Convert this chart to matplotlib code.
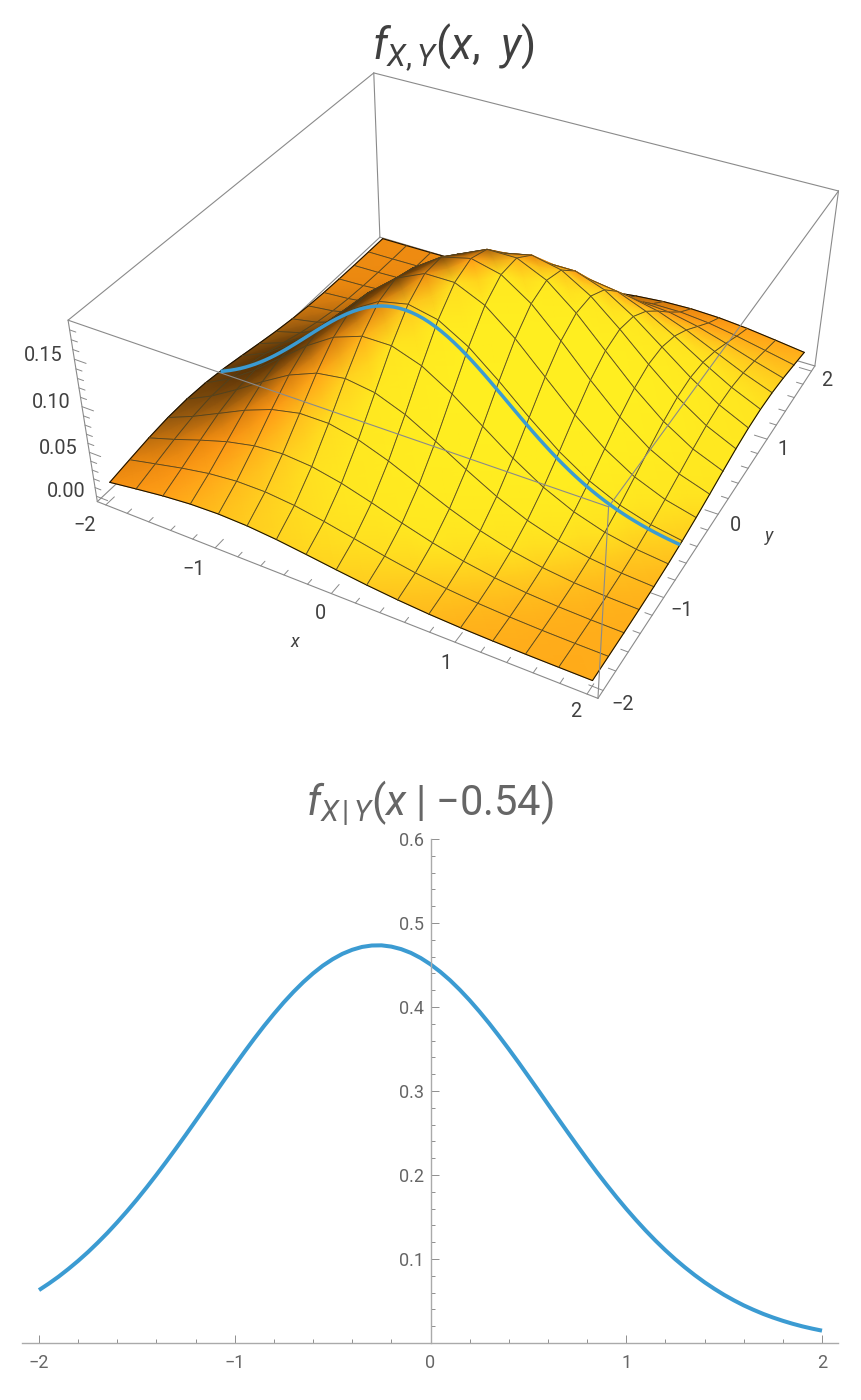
"""
Joint density surface with a conditional slice, and the slice on its own.
"""

import matplotlib
matplotlib.use("Agg")
import matplotlib.pyplot as plt
from matplotlib.colors import LinearSegmentedColormap
from matplotlib.ticker import MultipleLocator
import numpy as np

plt.rcParams["font.family"] = ["Roboto", "DejaVu Sans"]
plt.rcParams["mathtext.fontset"] = "custom"
plt.rcParams["mathtext.rm"] = "Roboto"
plt.rcParams["mathtext.it"] = "Roboto:italic"
plt.rcParams["mathtext.bf"] = "Roboto:bold"
plt.rcParams["axes.unicode_minus"] = True

# -------------------------------------------------------------------------
# Data
# -------------------------------------------------------------------------

grid_x = [-2.0, -1.75, -1.5, -1.25, -1.0, -0.75, -0.5, -0.25, 0.0,
          0.25, 0.5, 0.75, 1.0, 1.25, 1.5, 1.75, 2.0]
grid_y = list(grid_x)

# one row per y value, from y = -2 to y = 2
z_ym200 = [.0128, .0171, .0211, .0239, .0249, .0239, .0211, .0171, .0128, .0088, .0056, .0032, .0017, .0009, .0004, .0002, .0001]
z_ym175 = [.0171, .0239, .0306, .0362, .0393, .0393, .0362, .0306, .0239, .0171, .0113, .0068, .0038, .0020, .0009, .0004, .0002]
z_ym150 = [.0211, .0306, .0410, .0505, .0572, .0597, .0572, .0505, .0410, .0306, .0211, .0133, .0077, .0041, .0020, .0009, .0004]
z_ym125 = [.0239, .0362, .0505, .0649, .0766, .0833, .0833, .0766, .0649, .0505, .0362, .0239, .0145, .0081, .0041, .0020, .0009]
z_ym100 = [.0249, .0393, .0572, .0766, .0944, .1069, .1115, .1069, .0944, .0766, .0572, .0393, .0249, .0145, .0077, .0038, .0017]
z_ym075 = [.0239, .0393, .0597, .0833, .1069, .1263, .1373, .1373, .1263, .1069, .0833, .0597, .0393, .0239, .0133, .0068, .0032]
z_ym050 = [.0211, .0362, .0572, .0833, .1115, .1373, .1556, .1622, .1556, .1373, .1115, .0833, .0572, .0362, .0211, .0113, .0056]
z_ym025 = [.0171, .0306, .0505, .0766, .1069, .1373, .1622, .1763, .1763, .1622, .1373, .1069, .0766, .0505, .0306, .0171, .0088]
z_y000 = [.0128, .0239, .0410, .0649, .0944, .1263, .1556, .1763, .1838, .1763, .1556, .1263, .0944, .0649, .0410, .0239, .0128]
z_y025 = [.0088, .0171, .0306, .0505, .0766, .1069, .1373, .1622, .1763, .1763, .1622, .1373, .1069, .0766, .0505, .0306, .0171]
z_y050 = [.0056, .0113, .0211, .0362, .0572, .0833, .1115, .1373, .1556, .1622, .1556, .1373, .1115, .0833, .0572, .0362, .0211]
z_y075 = [.0032, .0068, .0133, .0239, .0393, .0597, .0833, .1069, .1263, .1373, .1373, .1263, .1069, .0833, .0597, .0393, .0239]
z_y100 = [.0017, .0038, .0077, .0145, .0249, .0393, .0572, .0766, .0944, .1069, .1115, .1069, .0944, .0766, .0572, .0393, .0249]
z_y125 = [.0009, .0020, .0041, .0081, .0145, .0239, .0362, .0505, .0649, .0766, .0833, .0833, .0766, .0649, .0505, .0362, .0239]
z_y150 = [.0004, .0009, .0020, .0041, .0077, .0133, .0211, .0306, .0410, .0505, .0572, .0597, .0572, .0505, .0410, .0306, .0211]
z_y175 = [.0002, .0004, .0009, .0020, .0038, .0068, .0113, .0171, .0239, .0306, .0362, .0393, .0393, .0362, .0306, .0239, .0171]
z_y200 = [.0001, .0002, .0004, .0009, .0017, .0032, .0056, .0088, .0128, .0171, .0211, .0239, .0249, .0239, .0211, .0171, .0128]

slice_y = -0.54
slice_height = 0.336   # joint density / conditional density along the slice

cond_x = [-2.0, -1.95, -1.9, -1.85, -1.8, -1.75, -1.7, -1.65, -1.6, -1.55, -1.5,
          -1.45, -1.4, -1.35, -1.3, -1.25, -1.2, -1.15, -1.1, -1.05, -1.0,
          -0.95, -0.9, -0.85, -0.8, -0.75, -0.7, -0.65, -0.6, -0.55, -0.5,
          -0.45, -0.4, -0.35, -0.3, -0.25, -0.2, -0.15, -0.1, -0.05, 0.0,
          0.05, 0.1, 0.15, 0.2, 0.25, 0.3, 0.35, 0.4, 0.45, 0.5,
          0.55, 0.6, 0.65, 0.7, 0.75, 0.8, 0.85, 0.9, 0.95, 1.0,
          1.05, 1.1, 1.15, 1.2, 1.25, 1.3, 1.35, 1.4, 1.45, 1.5,
          1.55, 1.6, 1.65, 1.7, 1.75, 1.8, 1.85, 1.9, 1.95, 2.0]
cond_f = [.0630, .0707, .0790, .0881, .0978, .1082, .1194, .1312, .1438, .1570, .1708,
          .1853, .2003, .2158, .2317, .2479, .2644, .2810, .2976, .3143, .3306,
          .3467, .3624, .3775, .3918, .4054, .4180, .4296, .4400, .4492, .4569,
          .4633, .4681, .4715, .4732, .4734, .4719, .4689, .4644, .4583, .4508,
          .4419, .4318, .4204, .4080, .3946, .3804, .3654, .3499, .3339, .3175,
          .3010, .2843, .2677, .2512, .2349, .2189, .2033, .1883, .1737, .1597,
          .1464, .1337, .1217, .1104, .0998, .0900, .0808, .0723, .0645, .0573,
          .0508, .0448, .0395, .0346, .0303, .0264, .0229, .0198, .0171, .0147]

xy_ticks = [-2, -1, 0, 1, 2]
z_ticks = [0.00, 0.05, 0.10, 0.15]
cond_y_ticks = [0.1, 0.2, 0.3, 0.4, 0.5, 0.6]

# -------------------------------------------------------------------------
# Camera: fitted from where the eight box corners sit on the page
# -------------------------------------------------------------------------

box_xy = 2.08
z_lo = -0.0062
z_hi = 0.1898

box_corners = [(-box_xy, -box_xy, z_lo), (box_xy, -box_xy, z_lo),
               (box_xy, box_xy, z_lo), (-box_xy, box_xy, z_lo),
               (-box_xy, -box_xy, z_hi), (box_xy, -box_xy, z_hi),
               (box_xy, box_xy, z_hi), (-box_xy, box_xy, z_hi)]
page_corners = [(97, 501), (598, 698), (815, 367), (380, 237),
                (68, 321), (609, 507), (838, 190), (374, 73)]

rows = []
rhs = []
for (bx, by, bz), (u, v) in zip(box_corners, page_corners):
    rows.append([bx, by, bz, 1, 0, 0, 0, 0, -u * bx, -u * by, -u * bz])
    rows.append([0, 0, 0, 0, bx, by, bz, 1, -v * bx, -v * by, -v * bz])
    rhs.extend([u, v])
cam = np.linalg.lstsq(np.array(rows, float), np.array(rhs, float), rcond=None)[0]
cam = np.append(cam, 1.0).reshape(3, 4)


def project(x, y, z):
    x, y, z = np.broadcast_arrays(np.asarray(x, float), np.asarray(y, float), np.asarray(z, float))
    w = cam[2, 0] * x + cam[2, 1] * y + cam[2, 2] * z + cam[2, 3]
    u = (cam[0, 0] * x + cam[0, 1] * y + cam[0, 2] * z + cam[0, 3]) / w
    v = (cam[1, 0] * x + cam[1, 1] * y + cam[1, 2] * z + cam[1, 3]) / w
    return u, v, w


# -------------------------------------------------------------------------
# Figure
# -------------------------------------------------------------------------

fig = plt.figure(figsize=(8.61, 14.0), dpi=100)
ax3 = fig.add_axes([0, 0, 1, 1])
ax3.set_xlim(0, 861)
ax3.set_ylim(1400, 0)
ax3.axis("off")

box_color = "#8a8a8a"
text_dark = "#404040"


def box_line(p, q, zorder=1, lw=0.8, color=box_color):
    u, v, _ = project([p[0], q[0]], [p[1], q[1]], [p[2], q[2]])
    ax3.plot(u, v, color=color, lw=lw, zorder=zorder, solid_capstyle="round")


# back edges, then the ticks, all under the surface
c = box_corners
for a, b in [(0, 1), (1, 2), (2, 3), (3, 0), (4, 7), (7, 6), (3, 7), (2, 6), (0, 4)]:
    box_line(c[a], c[b])

major_len = 0.105
minor_len = 0.055
for t in np.arange(-10, 11):
    val = t * 0.2
    size = major_len if t % 5 == 0 else minor_len
    box_line((val, -box_xy, z_lo), (val, -box_xy + size, z_lo), lw=0.7)
    box_line((box_xy, val, z_lo), (box_xy - size, val, z_lo), lw=0.7)
for t in range(0, 19):
    val = t * 0.01
    size = major_len if t % 5 == 0 else minor_len
    box_line((-box_xy, -box_xy, val), (-box_xy + size, -box_xy, val), lw=0.7)

# -------------------------------------------------------------------------
# Surface, far cells first
# -------------------------------------------------------------------------

Z = np.array([z_ym200, z_ym175, z_ym150, z_ym125, z_ym100, z_ym075, z_ym050, z_ym025,
              z_y000, z_y025, z_y050, z_y075, z_y100, z_y125, z_y150, z_y175, z_y200])
X, Y = np.meshgrid(grid_x, grid_y)
U, V, W = project(X, Y, Z)

# shade from the vertex normal: +x side bright, -x side dark, +y only a little darker
z_stretch = 8.75
dz_dy, dz_dx = np.gradient(Z * z_stretch, grid_y, grid_x)
norm = np.sqrt(1 + dz_dx ** 2 + dz_dy ** 2)
face_x = -dz_dx / norm
face_y = dz_dy / norm
shade = 0.5 + 0.6 * face_x + np.where(face_y > 0, 0.3, 0.17) * face_y + 0.02 * X - 0.015 * Y
shade = np.clip(shade, 0, 1)

surface_cmap = LinearSegmentedColormap.from_list(
    "surface",
    [(0.00, "#4f2d05"), (0.14, "#5e3607"), (0.26, "#93570e"), (0.40, "#e8860f"),
     (0.50, "#ff9a16"), (0.60, "#ffb31b"), (0.70, "#ffcf1f"), (0.80, "#ffe620"),
     (1.00, "#ffee20")])

mesh_color = "#4f4220"
n_y, n_x = Z.shape
cells = [(j, i) for j in range(n_y - 1) for i in range(n_x - 1)]
cells.sort(key=lambda ji: -W[ji[0]:ji[0] + 2, ji[1]:ji[1] + 2].mean())
for j, i in cells:
    ax3.pcolormesh(U[j:j + 2, i:i + 2], V[j:j + 2, i:i + 2], shade[j:j + 2, i:i + 2],
                   shading="gouraud", cmap=surface_cmap, vmin=0, vmax=1, zorder=2)
    for (j0, i0), (j1, i1) in [((j, i), (j, i + 1)), ((j + 1, i), (j + 1, i + 1)),
                               ((j, i), (j + 1, i)), ((j, i + 1), (j + 1, i + 1))]:
        on_rim = (j0 == j1 and j0 in (0, n_y - 1)) or (i0 == i1 and i0 in (0, n_x - 1))
        ax3.plot([U[j0, i0], U[j1, i1]], [V[j0, i0], V[j1, i1]],
                 color="#1a1204" if on_rim else mesh_color,
                 lw=0.8 if on_rim else 0.6, zorder=2, solid_capstyle="round")

# front box edges sit over the surface
for a, b in [(4, 5), (5, 6), (1, 5)]:
    box_line(c[a], c[b], zorder=3)

# slice at y = slice_y
su, sv, _ = project(cond_x, slice_y, np.array(cond_f) * slice_height)
ax3.plot(su, sv, color="#3b9bd2", lw=2.5, zorder=4, solid_capstyle="butt")

# -------------------------------------------------------------------------
# Labels of the 3D box
# -------------------------------------------------------------------------

tick_size_3d = 14.3
tick_size = 13
x_nudge = [(1, -1), (0, -1), (10, -4), (10, -4), (7, -10)]
for t, (du, dv) in zip(xy_ticks, x_nudge):
    lab = str(t).replace("-", "\u2212")
    u, v, _ = project(t, -box_xy - 0.27, z_lo)
    ax3.text(u + du, v + dv, lab, ha="center", va="center", fontsize=tick_size_3d, color=text_dark)
    u, v, _ = project(box_xy + 0.22, t, z_lo)
    ax3.text(u - 11, v + 2, lab, ha="center", va="center", fontsize=tick_size_3d, color=text_dark)
for t in z_ticks:
    u, v, _ = project(-box_xy - 0.105, -box_xy, t)
    ax3.text(u, v, "%.2f" % t, ha="right", va="center", fontsize=tick_size_3d, color=text_dark)

ax3.text(295, 642, "x", ha="center", va="center", fontsize=13, style="italic", color=text_dark)
ax3.text(769, 536, "y", ha="center", va="center", fontsize=13, style="italic", color=text_dark)

ax3.text(453, 48, r"$f_{X,Y}(x,\ y)$", ha="center", va="center", fontsize=31.5, color=text_dark)
ax3.text(430, 803, "$f_{X\\,|\\,Y}(x\\;|\\;{\u2212}0.54)$", ha="center", va="center", fontsize=30, color="#666666")

# -------------------------------------------------------------------------
# Conditional density
# -------------------------------------------------------------------------

ax2 = fig.add_axes([22 / 861, (1400 - 1343) / 1400, (838 - 22) / 861, 504 / 1400])
ax2.patch.set_alpha(0)
ax2.plot(cond_x, cond_f, color="#3b9bd2", lw=2.9, solid_capstyle="butt", clip_on=False)
ax2.set_xlim((22 - 430.5) / 195.75, (838 - 430.5) / 195.75)
ax2.set_ylim(0, 0.6)

ax2.spines["top"].set_visible(False)
ax2.spines["right"].set_visible(False)
ax2.spines["left"].set_position(("data", 0))
for side in ("left", "bottom"):
    ax2.spines[side].set_color("#aaaaaa")
    ax2.spines[side].set_linewidth(1.0)

ax2.set_xticks(xy_ticks)
ax2.set_xticklabels([str(t).replace("-", "\u2212") for t in xy_ticks])
ax2.set_yticks(cond_y_ticks)
ax2.set_yticklabels(["%.1f" % t for t in cond_y_ticks])
ax2.xaxis.set_minor_locator(MultipleLocator(0.2))
ax2.yaxis.set_minor_locator(MultipleLocator(0.02))
ax2.tick_params(axis="x", which="major", direction="in", length=5.5, width=0.7,
                color="#8f8f8f", labelcolor="#666666", labelsize=tick_size, pad=8)
ax2.tick_params(axis="y", which="major", direction="in", length=5.5, width=0.7,
                color="#8f8f8f", labelcolor="#666666", labelsize=tick_size, pad=4.5)
ax2.tick_params(which="minor", direction="in", length=3.2, width=0.7, color="#8f8f8f")

fig.savefig("out.png", dpi=100)
